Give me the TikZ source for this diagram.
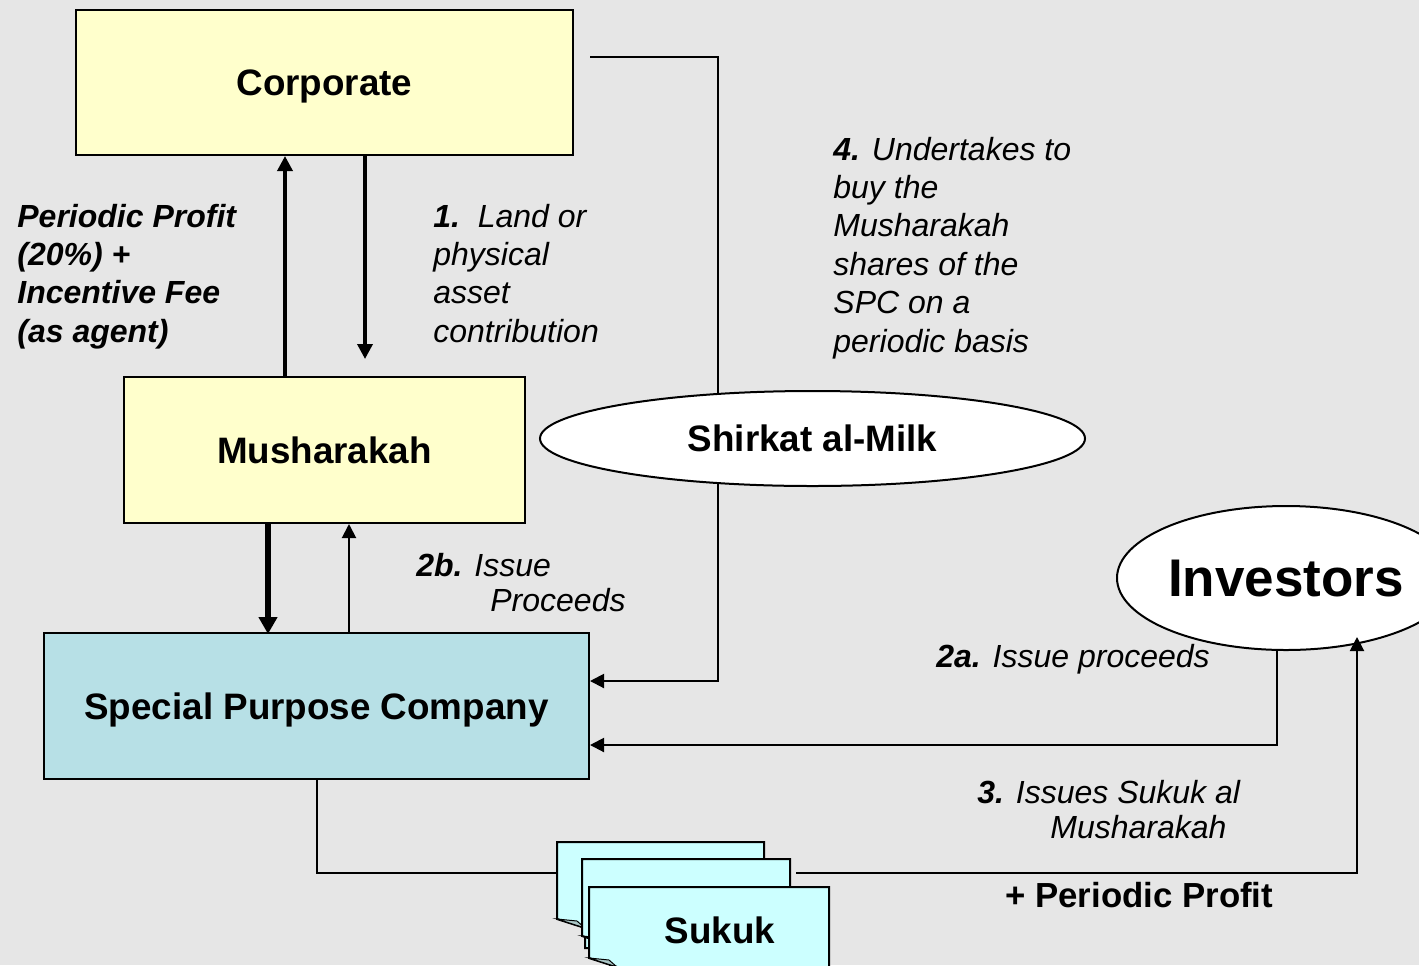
\documentclass[tikz,border=0pt]{standalone}
\usepackage{fontspec}
\setmainfont{Liberation Sans}
\usetikzlibrary{arrows.meta,calc,shapes.geometric}
\definecolor{bggray}{RGB}{230,230,230}
\definecolor{corpyellow}{RGB}{255,255,204}
\definecolor{spcblue}{RGB}{183,224,230}
\definecolor{sukukcyan}{RGB}{204,255,255}
\tikzset{
	box/.style={draw, line width=1pt, inner sep=0pt, text depth=0pt, font=\fontsize{18.4}{22}\selectfont\bfseries},
	flow/.style={line width=1pt, -{Triangle[length=7pt,width=7pt]}},
	heavy/.style={line width=1.75pt, -{Triangle[length=7.5pt,width=7.5pt]}},
	heavier/.style={line width=3pt, -{Triangle[length=8.5pt,width=9pt]}},
	lbl/.style={anchor=north west, inner sep=0pt, align=left, font=\fontsize{16}{19.2}\selectfont\itshape},
	lbltight/.style={lbl, font=\fontsize{16}{17.5}\selectfont\itshape},
}
\begin{document}
\begin{tikzpicture}[x=0.5pt,y=-0.5pt]
		\clip (0,0) rectangle (1419,965);
		\fill[bggray] (0,0) rectangle (1419,965);
		\node[box, fill=corpyellow, minimum width=248.5pt, minimum height=72.5pt] (corp) at (324.5,82.5) {Corporate};
		\node[box, fill=corpyellow, minimum width=200.5pt, minimum height=73pt] (mush) at (324.5,450) {Musharakah};
		\node[box, fill=spcblue, minimum width=272.5pt, minimum height=73pt] (spc) at (316.5,706) {Special Purpose Company};
		\draw[heavy] ($(mush.north)+(-39.5,0)$) -- ($(corp.south)+(-39.5,0)$);
		\draw[heavy] ($(corp.south)+(40.5,0)$) -- ($(mush.north)+(40.5,-17)$);
		\draw[heavier] ($(mush.south)+(-56.5,0)$) -- ($(spc.south)+(-48.5,-146)$);
		\draw[flow] ($(spc.north)+(32.5,0)$) -- ($(mush.south)+(24.5,0)$);
		\draw[flow] ($(corp.east)+(16,-25.5)$) -| ($(spc.east)+(128,-25)$) -- ($(spc.east)+(0,-25)$);
		\node[box, ellipse, fill=white, minimum width=272.5pt, minimum height=47.5pt] (milk) at (812.5,438.5) {Shirkat al-Milk};
		\node[box, ellipse, fill=white, minimum width=169pt, minimum height=72pt, font=\fontsize{26.5}{30}\selectfont\bfseries] (inv) at (1286,578) {Investors};
		\foreach \l/\t/\r/\b in {557/842/764/928, 582/859/790/945, 589/887/829/967}{
			\filldraw[fill=sukukcyan, line width=1pt] (\l,\t) -- (\r,\t) -- (\r,\b+20) -- (\l+28,\b+20) -- (\l+28,\b) -- (\l,\b-9) -- cycle;
			\filldraw[fill=sukukcyan!55!gray, line width=0.5pt] (\l,\b-9) -- (\l+28,\b) -- (\l+20,\b-7) -- cycle;
		}
		\node[font=\fontsize{18.4}{22}\selectfont\bfseries, inner sep=0pt] (sukuk) at (720,930) {Sukuk};
		\coordinate (skin) at (557,873);
		\coordinate (skout) at (796,873);
		\coordinate (invin) at (1357,637);
		\draw[line width=1pt] (spc.south) |- (skin);
		\draw[flow] (skout) -| (invin);
		\draw[flow] ($(inv.south)+(-9,0)$) |- ($(spc.east)+(0,39)$);
		\node[lbl, font=\fontsize{16}{19.2}\selectfont\bfseries\itshape] (profit) at (17,203.5) {Periodic Profit\\(20\%) +\\Incentive Fee\\(as agent)};
		\node[lbl] (land) at (433,203.5) {\textbf{1.}\ \ Land or\\physical\\asset\\contribution};
		\node[lbl] (buy) at (833,136.5) {\textbf{4.} Undertakes to\\buy the\\Musharakah\\shares of the\\SPC on a\\periodic basis};
		\node[lbltight] (issue2b) at (416,552.5) {\textbf{2b.} Issue\\\hspace*{37pt}Proceeds};
		\node[lbl] (issue2a) at (936,643.5) {\textbf{2a.} Issue proceeds};
		\node[lbltight] (issues3) at (977,779.5) {\textbf{3.} Issues Sukuk al\\\hspace*{36.5pt}Musharakah};
		\node[lbl, font=\fontsize{17.4}{20}\selectfont\bfseries] (plus) at (1005,881.5) {+ Periodic Profit};
	\end{tikzpicture}
\end{document}
